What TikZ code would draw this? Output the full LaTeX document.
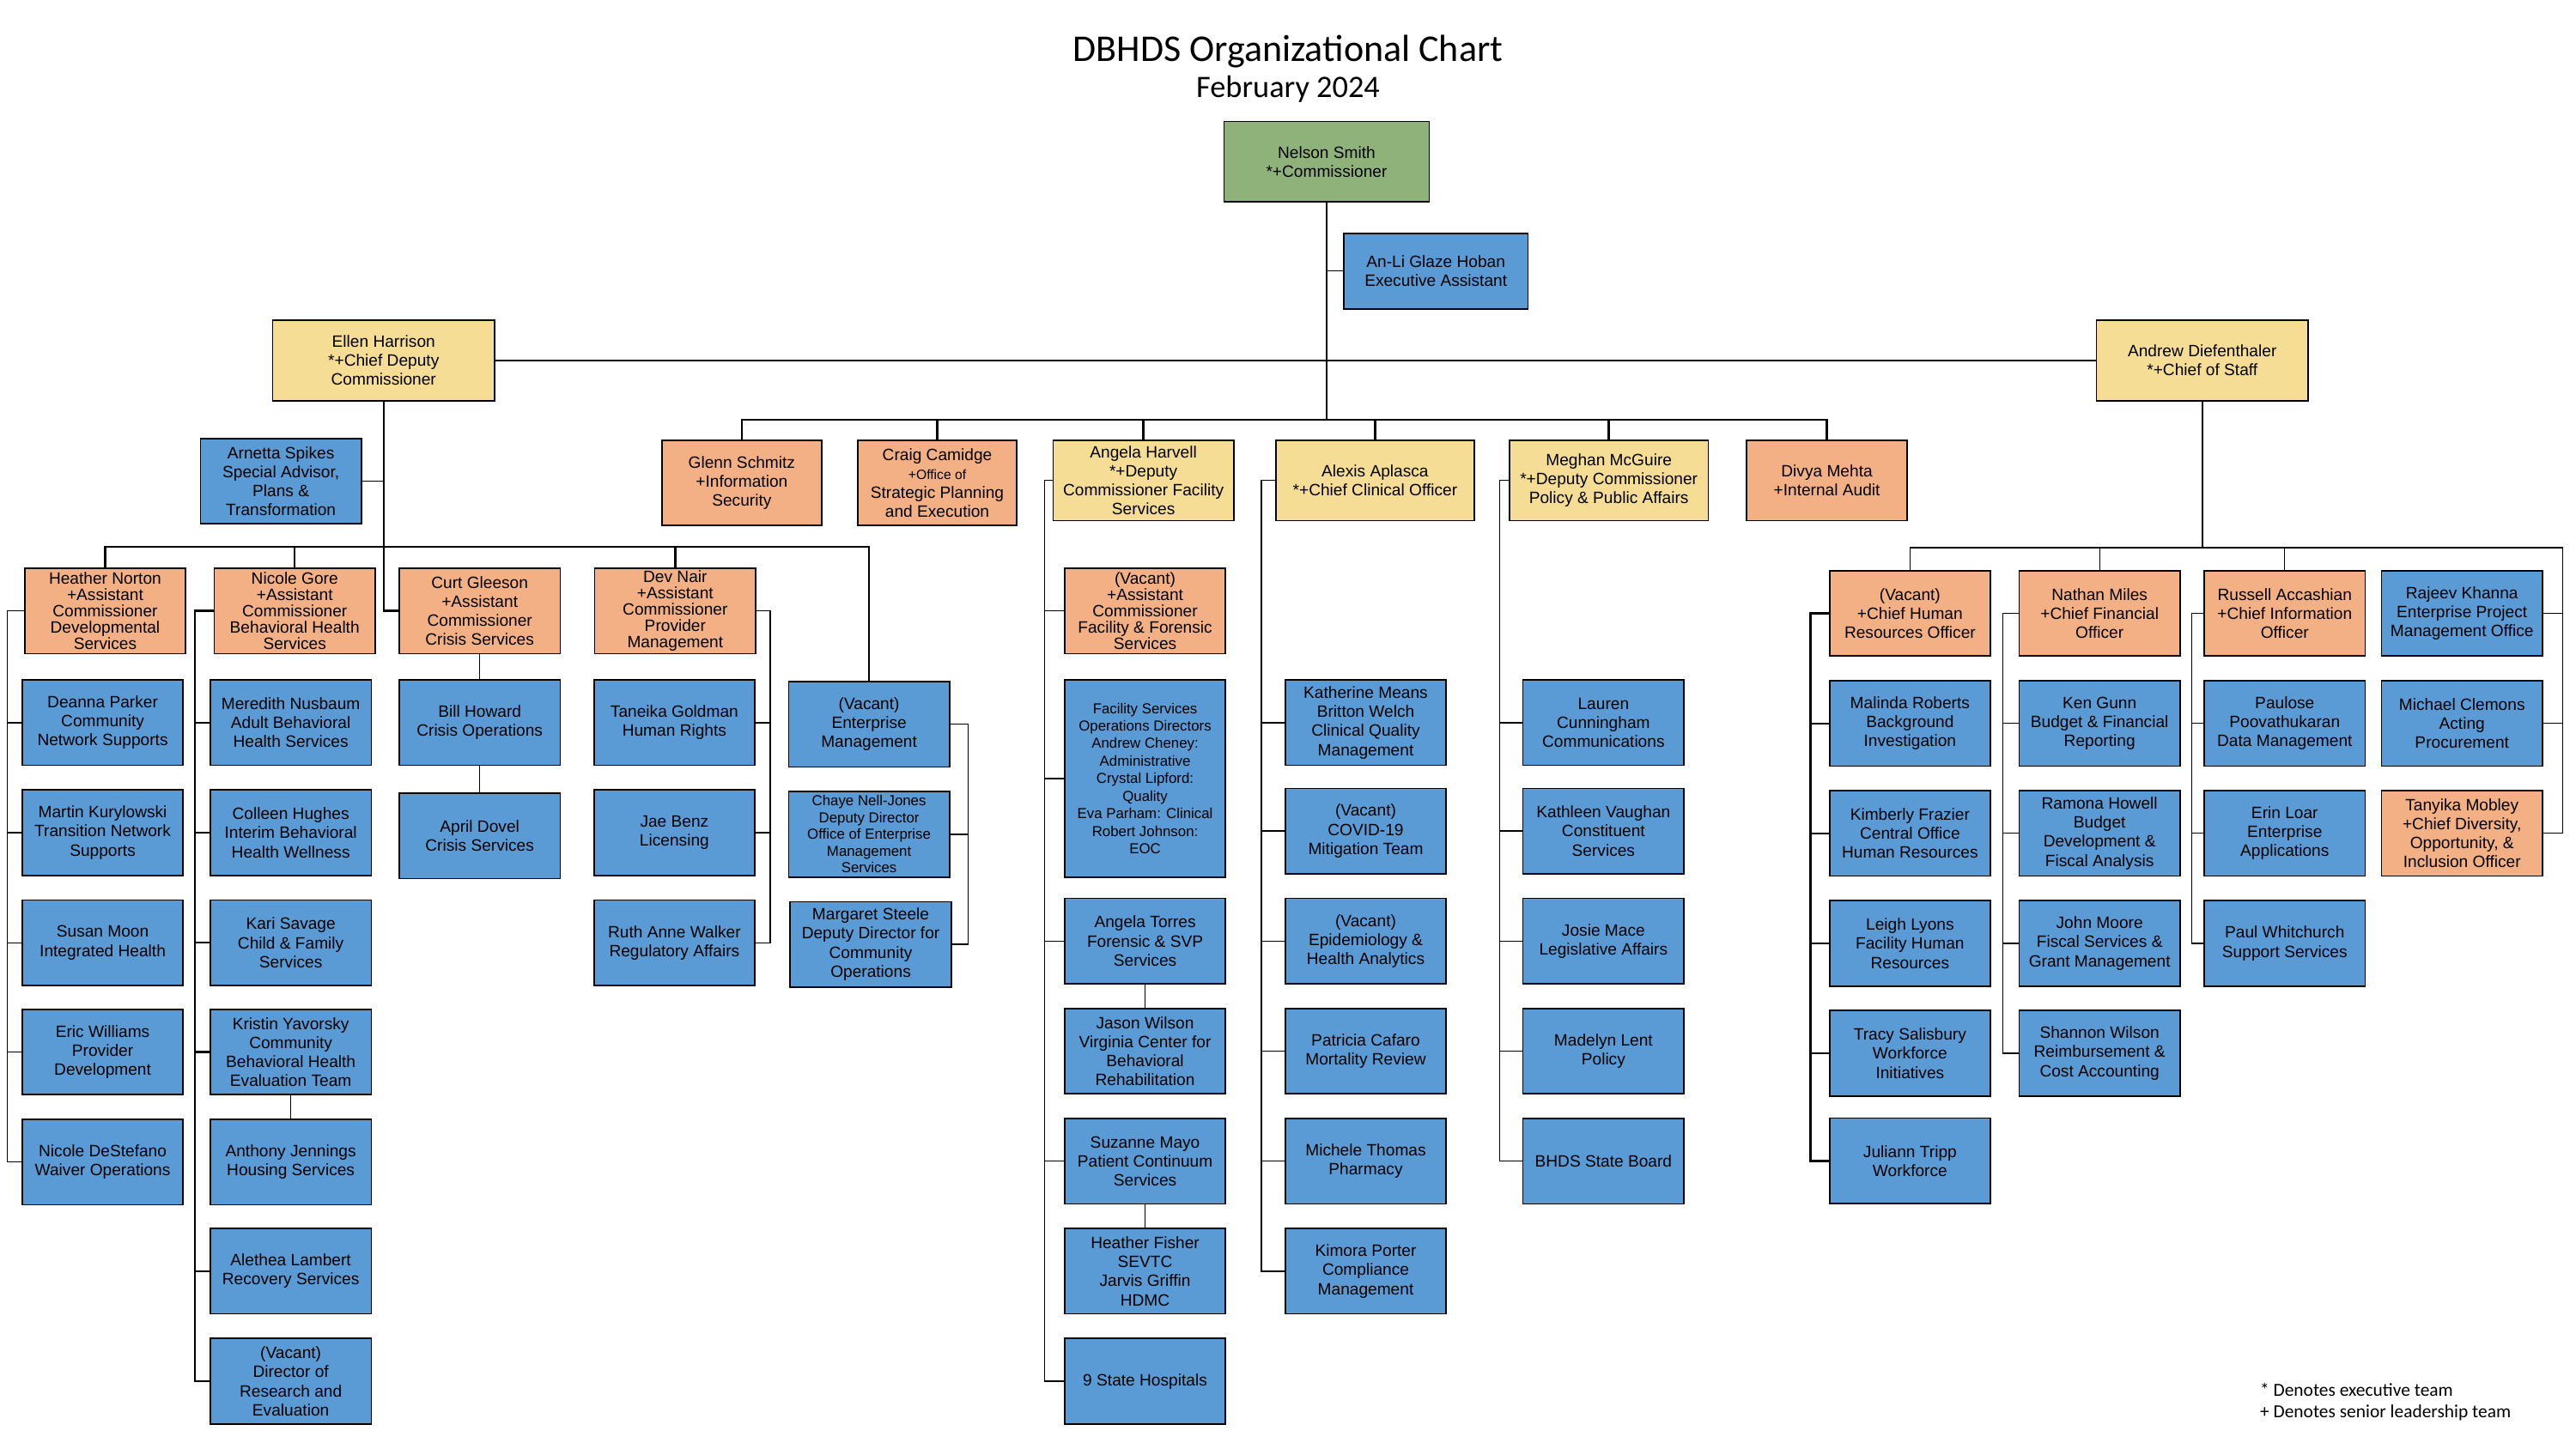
\documentclass[tikz,border=0pt]{standalone}
\usepackage{fontspec}
\setmainfont{Liberation Sans}
\newfontfamily\calibrifont{Carlito}
\definecolor{orgChartGreen}{HTML}{8EB27A}
\definecolor{orgChartBlue}{HTML}{5B9BD5}
\definecolor{orgChartOrange}{HTML}{F2B084}
\definecolor{orgChartYellow}{HTML}{F6DD95}

\begin{document}
\begin{tikzpicture}[x=1pt, y=-1pt,
    every node/.style={font=\fontsize{10}{11.6}\selectfont},
    unit/.style={draw, line width=0.9pt, align=center, inner sep=1pt},
    staff/.style={unit, fill=orgChartBlue, minimum width=98pt, minimum height=52pt},
    lead/.style={unit, fill=orgChartOrange, minimum width=98pt, minimum height=52pt},
    exec/.style={unit, fill=orgChartYellow, minimum height=49pt},
    tight/.style={font=\fontsize{10}{10}\selectfont},
    small/.style={font=\fontsize{8.8}{10.2}\selectfont},
    trunk/.style={line width=1.3pt},
    link/.style={line width=0.7pt}]
    \useasboundingbox (0,0) rectangle (1568,882);

    \node[font=\calibrifont\fontsize{23}{27}\selectfont] (title) at (784,31.5) {DBHDS Organizational Chart};
    \node[font=\calibrifont\fontsize{19}{23}\selectfont] (date) at (784,54.5) {February 2024};

    \node[unit, fill=orgChartGreen, minimum width=125pt, minimum height=49pt] (nelson) at (807.5,98.5) {Nelson Smith\\*+Commissioner};
    \node[unit, fill=orgChartBlue, minimum width=112pt, minimum height=46pt] (anli) at (874,165) {An-Li Glaze Hoban\\Executive Assistant};
    \node[exec, minimum width=135pt] (ellen) at (233.5,219.5) {Ellen Harrison\\*+Chief Deputy\\Commissioner};
    \node[exec, minimum width=129pt] (andrew) at (1340.5,219.5) {Andrew Diefenthaler\\*+Chief of Staff};
    \node[staff] (arnetta) at (171,293) {Arnetta Spikes\\Special Advisor,\\Plans \&\\Transformation};

    \node[lead, minimum width=97pt] (glenn) at (451.5,294) {Glenn Schmitz\\+Information\\Security};
    \node[lead, minimum width=97pt] (craig) at (570.5,294) {Craig Camidge\\\fontsize{8.2}{10}\selectfont +Office of\\Strategic Planning\\and Execution};
    \node[exec, minimum width=110pt] (harvell) at (696,292.5) {Angela Harvell\\*+Deputy\\Commissioner Facility\\Services};
    \node[exec, minimum width=121pt] (aplasca) at (837,292.5) {Alexis Aplasca\\*+Chief Clinical Officer};
    \node[exec, minimum width=121pt] (mcguire) at (979.3,292.5) {Meghan McGuire\\*+Deputy Commissioner\\Policy \& Public Affairs};
    \node[lead, minimum height=49pt] (mehta) at (1112,292.5) {Divya Mehta\\+Internal Audit};

    \node[lead, tight] (norton) at (64,372) {Heather Norton\\+Assistant\\Commissioner\\Developmental\\Services};
    \node[lead, tight] (gore) at (179.4,372) {Nicole Gore\\+Assistant\\Commissioner\\Behavioral Health\\Services};
    \node[lead] (gleeson) at (292,372) {Curt Gleeson\\+Assistant\\Commissioner\\Crisis Services};
    \node[lead, tight] (nair) at (411,372) {Dev Nair\\+Assistant\\Commissioner\\Provider\\Management};
    \node[staff] (entmgmt) at (529,441) {(Vacant)\\Enterprise\\Management};
    \node[staff, small] (chaye) at (529,508) {Chaye Nell-Jones\\Deputy Director\\Office of Enterprise\\Management\\Services};
    \node[staff] (steele) at (530,575) {Margaret Steele\\Deputy Director for\\Community\\Operations};

    \foreach \n/\y/\t in {parker/440/{Deanna Parker\\Community\\Network Supports},
        kurylowski/507/{Martin Kurylowski\\Transition Network\\Supports},
        moon/574/{Susan Moon\\Integrated Health},
        williams/640.5/{Eric Williams\\Provider\\Development},
        destefano/707.5/{Nicole DeStefano\\Waiver Operations}}
        \node[staff] (\n) at (62.5,\y) {\t};

    \foreach \n/\y/\t in {nusbaum/440/{Meredith Nusbaum\\Adult Behavioral\\Health Services},
        hughes/507/{Colleen Hughes\\Interim Behavioral\\Health Wellness},
        savage/574/{Kari Savage\\Child \& Family\\Services},
        yavorsky/640.5/{Kristin Yavorsky\\Community\\Behavioral Health\\Evaluation Team},
        jennings/707.5/{Anthony Jennings\\Housing Services},
        lambert/774/{Alethea Lambert\\Recovery Services},
        resdir/841/{(Vacant)\\Director of\\Research and\\Evaluation}}
        \node[staff] (\n) at (177,\y) {\t};

    \foreach \n/\y/\t in {howard/440/{Bill Howard\\Crisis Operations},
        dovel/509/{April Dovel\\Crisis Services}}
        \node[staff] (\n) at (292,\y) {\t};

    \foreach \n/\y/\t in {goldman/440/{Taneika Goldman\\Human Rights},
        benz/507/{Jae Benz\\Licensing},
        walker/574/{Ruth Anne Walker\\Regulatory Affairs}}
        \node[staff] (\n) at (410.5,\y) {\t};

    \node[lead, tight] (facff) at (697,372) {(Vacant)\\+Assistant\\Commissioner\\Facility \& Forensic\\Services};
    \node[staff, minimum height=120pt, font=\fontsize{8.8}{10.7}\selectfont] (facops) at (697,474) {Facility Services\\Operations Directors\\Andrew Cheney:\\Administrative\\Crystal Lipford:\\Quality\\Eva Parham: Clinical\\Robert Johnson:\\EOC};
    \foreach \n/\y/\t in {torres/573/{Angela Torres\\Forensic \& SVP\\Services},
        jwilson/640/{Jason Wilson\\Virginia Center for\\Behavioral\\Rehabilitation},
        mayo/707/{Suzanne Mayo\\Patient Continuum\\Services},
        fisher/774/{Heather Fisher\\SEVTC\\Jarvis Griffin\\HDMC},
        hospitals/841/{9 State Hospitals}}
        \node[staff] (\n) at (697,\y) {\t};

    \foreach \n/\y/\t in {means/440/{Katherine Means\\Britton Welch\\Clinical Quality\\Management},
        covid/506/{(Vacant)\\COVID-19\\Mitigation Team},
        epi/573/{(Vacant)\\Epidemiology \&\\Health Analytics},
        cafaro/640/{Patricia Cafaro\\Mortality Review},
        thomas/707/{Michele Thomas\\Pharmacy},
        porter/774/{Kimora Porter\\Compliance\\Management}}
        \node[staff] (\n) at (831.3,\y) {\t};

    \foreach \n/\y/\t in {cunningham/440/{Lauren\\Cunningham\\Communications},
        vaughan/506/{Kathleen Vaughan\\Constituent\\Services},
        mace/573/{Josie Mace\\Legislative Affairs},
        lent/640/{Madelyn Lent\\Policy},
        board/707/{BHDS State Board}}
        \node[staff] (\n) at (976,\y) {\t};

    \node[lead] (chro) at (1162.6,373.5) {(Vacant)\\+Chief Human\\Resources Officer};
    \node[lead] (miles) at (1278,373.5) {Nathan Miles\\+Chief Financial\\Officer};
    \node[lead] (accashian) at (1390.7,373.5) {Russell Accashian\\+Chief Information\\Officer};
    \node[staff] (khanna) at (1498.6,373.5) {Rajeev Khanna\\Enterprise Project\\Management Office};
    \node[staff] (clemons) at (1498.6,440.5) {Michael Clemons\\Acting\\Procurement};
    \node[lead] (mobley) at (1498.6,507.4) {Tanyika Mobley\\+Chief Diversity,\\Opportunity, \&\\Inclusion Officer};

    \foreach \n/\y/\t in {roberts/440.5/{Malinda Roberts\\Background\\Investigation},
        frazier/507.4/{Kimberly Frazier\\Central Office\\Human Resources},
        lyons/574.4/{Leigh Lyons\\Facility Human\\Resources},
        salisbury/641.3/{Tracy Salisbury\\Workforce\\Initiatives},
        tripp/706.8/{Juliann Tripp\\Workforce}}
        \node[staff] (\n) at (1162.6,\y) {\t};

    \foreach \n/\y/\t in {gunn/440.5/{Ken Gunn\\Budget \& Financial\\Reporting},
        howell/507.4/{Ramona Howell\\Budget\\Development \&\\Fiscal Analysis},
        moore/574.4/{John Moore\\Fiscal Services \&\\Grant Management},
        swilson/641.3/{Shannon Wilson\\Reimbursement \&\\Cost Accounting}}
        \node[staff] (\n) at (1278,\y) {\t};

    \foreach \n/\y/\t in {poovathukaran/440.5/{Paulose\\Poovathukaran\\Data Management},
        loar/507.4/{Erin Loar\\Enterprise\\Applications},
        whitchurch/574.4/{Paul Whitchurch\\Support Services}}
        \node[staff] (\n) at (1390.7,\y) {\t};

    \node[anchor=west, inner sep=0pt, font=\calibrifont\fontsize{11.2}{14}\selectfont] (execnote) at (1375.5,846) {* Denotes executive team};
    \node[anchor=west, inner sep=0pt, font=\calibrifont\fontsize{11.2}{14}\selectfont] (slnote) at (1375.5,860) {+ Denotes senior leadership team};

    \coordinate (bus1) at (807.5,255.5);
    \coordinate (bus2) at (233.5,333);
    \coordinate (bus3) at (1340.5,333.5);
    \coordinate (rrail) at (1560,333.5);

    \draw[link] (ellen.east) -- (andrew.west);
    \draw[trunk] (nelson.south) -- (bus1);
    \draw[link] (anli.west) -- (anli.west -| nelson.south);
    \foreach \k in {glenn,craig,harvell,aplasca,mcguire,mehta}
        \draw[trunk] (bus1) -| (\k.north);

    \draw[trunk] (ellen.south) -- (bus2);
    \draw[link] (arnetta.east) -- (arnetta.east -| ellen.south);
    \foreach \k in {norton,gore,nair,entmgmt}
        \draw[trunk] (bus2) -| (\k.north);
    \draw[trunk] (bus2) |- (gleeson.west);

    \draw[trunk] (andrew.south) -- (bus3);
    \foreach \k in {chro,miles,accashian}
        \draw[link] (bus3) -| (\k.north);
    \draw[link] (bus3) -- (rrail);
    \foreach \k in {khanna,clemons,mobley}
        \draw[link] (rrail) |- (\k.east);

    \foreach \k in {parker,kurylowski,moon,williams,destefano}
        \draw[link] (norton.west) -- ++(-10,0) |- (\k.west);
    \foreach \k in {nusbaum,hughes,savage,yavorsky,lambert,resdir}
        \draw[trunk] (gore.west) -- ++(-11.4,0) |- (\k.west);
    \draw[link] (yavorsky.south) -- (jennings.north);
    \draw[link] (gleeson.south) -- (howard.north);
    \draw[link] (howard.south) -- (dovel.north);
    \foreach \k in {goldman,benz,walker}
        \draw[link] (nair.east) -- ++(8.4,0) |- (\k.east);
    \foreach \k in {chaye,steele}
        \draw[link] (entmgmt.east) -- ++(10.8,0) |- (\k.east);

    \foreach \k in {facff,facops,torres,mayo,hospitals}
        \draw[link] (harvell.west) -- ++(-4.6,0) |- (\k.west);
    \draw[link] (torres.south) -- (jwilson.north);
    \draw[link] (mayo.south) -- (fisher.north);
    \foreach \k in {means,covid,epi,cafaro,thomas,porter}
        \draw[link] (aplasca.west) -- ++(-8.3,0) |- (\k.west);
    \foreach \k in {cunningham,vaughan,mace,lent,board}
        \draw[link] (mcguire.west) -- ++(-5.6,0) |- (\k.west);

    \foreach \k in {roberts,frazier,lyons,salisbury,tripp}
        \draw[trunk] (chro.west) -- ++(-11,0) |- (\k.west);
    \foreach \k in {gunn,howell,moore,swilson}
        \draw[link] (miles.west) -- ++(-9.4,0) |- (\k.west);
    \foreach \k in {poovathukaran,loar,whitchurch}
        \draw[link] (accashian.west) -- ++(-7,0) |- (\k.west);
\end{tikzpicture}
\end{document}
